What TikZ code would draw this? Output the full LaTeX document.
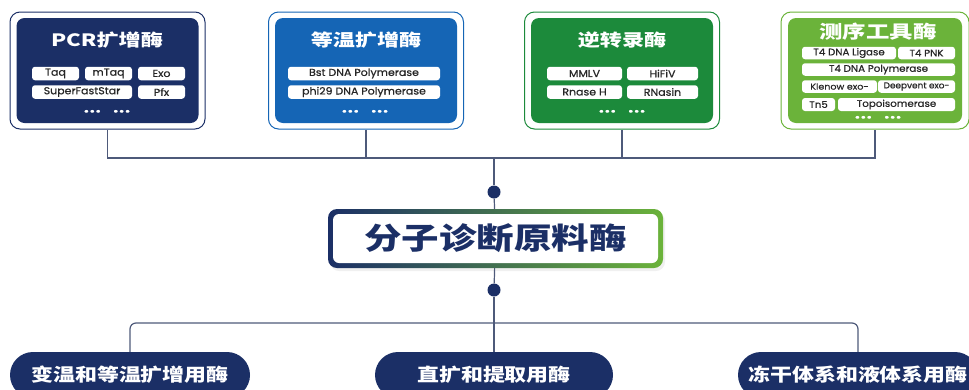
\documentclass[tikz,border=0pt]{standalone}
\usepackage{fontspec}
\setmainfont{Noto Sans CJK SC}
\newfontfamily\pillfont{Poppins}[FakeBold=0.6]
\usetikzlibrary{positioning,shadows}

\definecolor{navy}{HTML}{1B2F66}
\definecolor{midblue}{HTML}{1565B5}
\definecolor{darkgreen}{HTML}{1C8A3B}
\definecolor{lightgreen}{HTML}{6BB33A}
\definecolor{linegray}{HTML}{4E5A7A}

% text in the reference is drawn a little wide
\newcommand{\widen}[2][1.3]{\scalebox{#1}[1]{#2}}

\begin{document}
\begin{tikzpicture}[x=1pt, y=1pt]
    \tikzstyle{frame} = [rectangle, draw, fill=white, line width=1pt, rounded corners=10pt, minimum width=195pt, minimum height=117pt]
    \tikzstyle{panel} = [rectangle, rounded corners=8pt, minimum width=182pt, minimum height=105pt]
    \tikzstyle{head} = [text=white, inner sep=0pt, font=\fontsize{17}{20}\selectfont\bfseries]
    \tikzstyle{pill} = [rectangle, fill=white, rounded corners=3pt, minimum height=13.5pt, inner sep=0pt, text=black!85, font=\pillfont\fontsize{10}{11}\selectfont]
    \tikzstyle{more} = [text=white, inner sep=0pt, font=\pillfont\fontsize{11}{12}\selectfont]
    \tikzstyle{conn} = [draw=linegray, line width=1.2pt]
    \tikzstyle{knot} = [circle, fill=navy, minimum size=13pt, inner sep=0pt]
    \tikzstyle{usage} = [rectangle, fill=navy, rounded corners=23pt, minimum width=240pt, minimum height=46pt, text=white, font=\fontsize{18}{20}\selectfont\bfseries]

    \useasboundingbox (0,0) rectangle (969,-389);

    % PCR
    \node (pcr) [frame, draw=navy] at (107.5,-70.5) {};
    \node (pcrpanel) [panel, fill=navy] at (pcr) {};
    \node (pcrtitle) [head] at (107,-40) {\widen{PCR扩增酶}};
    \node (taq) [pill, minimum width=47pt] at (55.5,-73.5) {\widen[1.1]{Taq}};
    \node (mtaq) [pill, minimum width=47pt] at (108.5,-73.5) {\widen[1.1]{mTaq}};
    \node (exo) [pill, minimum width=47pt] at (161.5,-73.5) {\widen[1.1]{Exo}};
    \node (sfs) [pill, minimum width=100pt] at (82,-92) {\widen[1.1]{SuperFastStar}};
    \node (pfx) [pill, minimum width=47pt] at (161.5,-92) {\widen[1.1]{Pfx}};
    \node (pcrmore) [more] at (107,-112.5) {\widen{•••\hspace{9pt}•••}};

    % isothermal
    \node (iso) [frame, draw=midblue] at (366,-70.5) {};
    \node (isopanel) [panel, fill=midblue] at (iso) {};
    \node (isotitle) [head] at (366,-40) {\widen{等温扩增酶}};
    \node (bst) [pill, minimum width=152pt] at (364,-73.5) {\widen[1.1]{Bst DNA Polymerase}};
    \node (phi) [pill, minimum width=152pt] at (364,-92) {\widen[1.1]{phi29 DNA Polymerase}};
    \node (isomore) [more] at (365,-112.5) {\widen{•••\hspace{9pt}•••}};

    % reverse transcriptase
    \node (rt) [frame, draw=darkgreen] at (622,-70.5) {};
    \node (rtpanel) [panel, fill=darkgreen] at (rt) {};
    \node (rttitle) [head] at (622,-40) {\widen{逆转录酶}};
    \node (mmlv) [pill, minimum width=75pt] at (584.5,-73.5) {\widen[1.1]{MMLV}};
    \node (hifiv) [pill, minimum width=71pt] at (662.5,-73.5) {\widen[1.1]{HiFiV}};
    \node (rnaseh) [pill, minimum width=75pt] at (584.5,-92) {\widen[1.1]{Rnase H}};
    \node (rnasin) [pill, minimum width=71pt] at (662.5,-92) {\widen[1.1]{RNasin}};
    \node (rtmore) [more] at (622,-112.5) {\widen{•••\hspace{9pt}•••}};

    % sequencing
    \node (seq) [frame, draw=lightgreen, minimum width=188pt] at (875,-70.5) {};
    \node (seqpanel) [panel, fill=lightgreen, minimum width=174pt] at (seq) {};
    \node (seqtitle) [head, font=\fontsize{18}{20}\selectfont\bfseries] at (878,-32) {\widen{测序工具酶}};
    \node (ligase) [pill, minimum width=94pt, minimum height=12.5pt, font=\pillfont\fontsize{9.5}{11}\selectfont] at (849,-53) {\widen[1.08]{T4 DNA Ligase}};
    \node (pnk) [pill, minimum width=57pt, minimum height=12.5pt, font=\pillfont\fontsize{9.5}{11}\selectfont] at (926.5,-53) {\widen[1.08]{T4 PNK}};
    \node (t4pol) [pill, minimum width=153pt, minimum height=12.5pt, font=\pillfont\fontsize{9.5}{11}\selectfont] at (878.5,-69.5) {\widen[1.08]{T4 DNA Polymerase}};
    \node (klenow) [pill, minimum width=75pt, minimum height=12.5pt, font=\pillfont\fontsize{8.5}{10}\selectfont] at (839.5,-86.5) {\widen[1.12]{Klenow exo-}};
    \node (deepvent) [pill, minimum width=77pt, minimum height=12.5pt, font=\pillfont\fontsize{8.5}{10}\selectfont] at (916.5,-86.5) {\widen[1.05]{Deepvent exo-}};
    \node (tn5) [pill, minimum width=33pt, minimum height=13pt, font=\pillfont\fontsize{9.5}{11}\selectfont] at (818.5,-104.5) {\widen[1.08]{Tn5}};
    \node (topo) [pill, minimum width=117pt, minimum height=13pt, font=\pillfont\fontsize{9.5}{11}\selectfont] at (896.5,-104.5) {\widen[1.08]{Topoisomerase}};
    \node (seqmore) [more] at (878,-118.5) {\widen{•••\hspace{9pt}•••}};

    % core
    \node (coreframe) [rectangle, rounded corners=9pt, minimum width=335pt, minimum height=59pt, left color=navy, middle color=midblue, right color=lightgreen, drop shadow={opacity=0.12, shadow xshift=2pt, shadow yshift=-3pt}] at (495.5,-238.5) {};
    \node (core) [rectangle, fill=white, rounded corners=6pt, minimum width=325pt, minimum height=49pt, text=navy, font=\fontsize{30}{34}\selectfont\bfseries] at (coreframe) {\widen[1.25]{分子诊断原料酶}};

    \node (topknot) [knot] at (494,-192) {};
    \node (botknot) [knot] at (494,-290) {};

    % applications
    \node (vari) [usage] at (130,-375) {\widen[1.22]{变温和等温扩增用酶}};
    \node (direct) [usage, minimum width=238pt] at (494,-375) {\widen[1.22]{直扩和提取用酶}};
    \node (lyo) [usage] at (858,-375) {\widen[1.22]{冻干体系和液体系用酶}};

    \coordinate (topbar) at (494,-158);
    \coordinate (botbar) at (494,-323);

    \draw [conn] (pcr.south) |- (topbar) -| (seq.south);
    \draw [conn] (iso.south) -- (iso.south |- topbar);
    \draw [conn] (rt.south) -- (rt.south |- topbar);
    \draw [conn] (topbar) -- (topknot);
    \draw [conn] (coreframe) -- (topknot);
    \draw [conn] (coreframe) -- (botknot);
    \draw [conn, rounded corners=6pt] (vari.north) |- (botbar) -| (lyo.north);
    \draw [conn] (botknot) -- (direct.north);
\end{tikzpicture}
\end{document}
